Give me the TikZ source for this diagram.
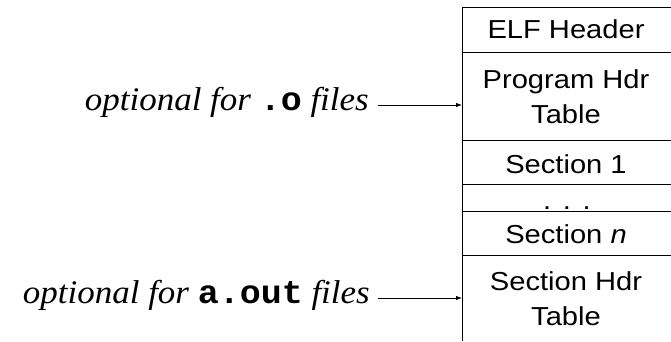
\documentclass[tikz,border=0pt]{standalone}
\usepackage{fontspec}
\setmainfont[FakeStretch=1.06]{Liberation Serif}
\newfontfamily\cellfont[FakeStretch=1.12]{Liberation Sans}
\setmonofont[FakeStretch=1.06]{Liberation Mono}
\usetikzlibrary{arrows.meta}
\begin{document}
\begin{tikzpicture}[x=1pt,y=-1pt,
  cell/.style={font=\cellfont\fontsize{26}{35}\selectfont, anchor=base, inner sep=0pt, align=center},
  note/.style={font=\fontsize{33}{36}\selectfont\itshape, anchor=base east, inner sep=0pt},
  rule/.style={line width=1pt},
  pointer/.style={line width=0.8pt, -{Latex[length=6pt,width=4.5pt]}}]
  \useasboundingbox (0,0) rectangle (671,341);
  % file layout column
  \draw[rule] (671,7) -- (462,7) -- (462,341);
  \foreach \y in {52,140,184,211,255}
    \draw[rule] (462,\y) -- (671,\y);
  % cell labels (two-line cells are placed by their last baseline)
  \node[cell] (elf) at (566,38) {ELF Header};
  \node[cell] (phdr) at (566,123) {Program Hdr\\Table};
  \node[cell] (sec1) at (566,173) {Section 1};
  \node[cell] (dots) at (567,209) {.\hspace{0.45em}.\hspace{0.45em}.};
  \node[cell] (secn) at (566,243) {Section \textit{n}};
  \node[cell] (shdr) at (566,325) {Section Hdr\\Table};
  % side notes
  \coordinate (pin) at (462,105);
  \coordinate (sin) at (462,298);
  \node[note] (onote) at (369,110) {optional for \textbf{\ttfamily\upshape .o} files};
  \node[note] (anote) at (370,303) {optional for \textbf{\ttfamily\upshape a.out} files};
  \draw[pointer] (onote.east |- pin) ++(9,0) -- (pin);
  \draw[pointer] (anote.east |- sin) ++(8,0) -- (sin);
\end{tikzpicture}
\end{document}
